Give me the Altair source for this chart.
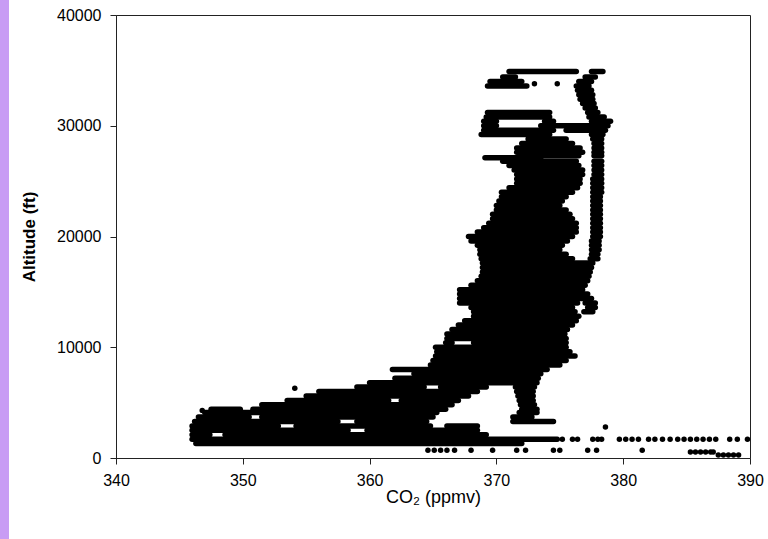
import altair as alt
import pandas as pd

# Horizontal flight-level streaks of dense samples: altitude (ft), CO2 start, CO2 end (ppmv)
streak_alt = [
    1300, 1700, 2100, 2100, 2500, 2500, 2900, 2900, 2900, 3300, 3300, 3300,
    3700, 3700, 3700, 4100, 4100, 4400, 4400, 4400, 4800, 4800, 5200, 5200, 5200,
    5600, 5600, 6000, 6000, 6400, 6400, 6400, 6800,
    7200, 7600, 8000,
    8400, 8800, 9200, 9600, 10000, 10400, 10400, 10800, 11200, 11600, 12000,
    12400, 12800, 13200, 13200, 13600, 13600, 14000, 14000, 14400, 14800,
    15200, 15600, 16000, 16400, 16800, 17200, 17600, 18000, 18000, 18400,
    18400, 18800, 18800, 19200, 19200, 19600, 19600, 20000, 20000, 20400,
    20400, 20800, 20800, 21200, 21200, 21600, 21600, 22000, 22000, 22400,
    22400, 22800, 22800, 23200, 23200, 23600, 23600, 24000, 24000, 24400,
    24400, 24800, 24800, 25200, 25200, 25600, 25600, 26000, 26000, 26400,
    26400, 26800, 26800, 27100, 27300, 27300, 27600, 27600, 28000, 28000,
    28400, 28400, 28800, 28800, 29200, 29200, 29600, 29600, 30000, 30000,
    30400, 30400, 30400, 30800, 30800, 31200, 31200, 31600, 32000, 32400,
    32800, 33200, 33600, 33600, 34000, 34000, 34400, 34400, 34900, 34900,
]
streak_lo = [
    346.3, 346.0, 346.0, 348.6, 346.0, 359.8, 346.0, 354.2, 366.1, 346.2, 359.0, 371.3,
    346.5, 351.5, 371.3, 347.0, 371.8, 347.5, 350.8, 372.0, 351.5, 371.9, 353.5, 362.5, 371.8,
    355.0, 371.7, 356.0, 371.6, 359.0, 365.6, 371.5, 360.0,
    362.0, 363.5, 361.8,
    364.8, 365.0, 365.2, 365.3, 365.2, 366.0, 368.2, 366.1, 366.1, 366.5, 367.0,
    367.5, 368.2, 368.2, 376.9, 368.0, 377.2, 367.1, 377.0, 367.1, 367.1,
    367.1, 368.0, 368.5, 368.8, 368.9, 368.9, 368.9, 368.8, 377.4, 368.7,
    377.5, 368.7, 377.5, 368.5, 377.5, 368.0, 377.5, 367.8, 377.6, 368.5,
    377.6, 369.0, 377.6, 369.4, 377.6, 369.7, 377.6, 369.7, 377.6, 370.0,
    377.6, 370.0, 377.6, 370.2, 377.6, 370.4, 377.6, 370.4, 377.6, 371.0,
    377.6, 371.6, 377.6, 371.6, 377.6, 371.6, 377.7, 371.4, 377.7, 371.0,
    377.7, 370.5, 377.7, 369.1, 373.0, 377.7, 371.6, 377.7, 371.6, 377.7,
    372.0, 377.7, 372.5, 377.6, 368.8, 377.5, 369.0, 375.5, 369.0, 373.5,
    369.0, 373.8, 377.5, 369.2, 377.3, 369.3, 377.2, 377.0, 376.8, 376.6,
    376.5, 376.4, 369.3, 376.3, 369.5, 376.5, 370.5, 377.0, 371.0, 377.5,
]
streak_hi = [
    372.0, 374.8, 347.4, 369.2, 358.3, 368.5, 352.8, 364.8, 368.5, 357.5, 364.5, 374.5,
    350.5, 365.0, 372.8, 365.3, 373.2, 349.8, 366.0, 373.2, 366.5, 373.0, 361.5, 367.0, 372.9,
    367.8, 372.9, 368.5, 372.9, 364.3, 369.2, 373.0, 373.2,
    373.3, 373.5, 374.0,
    375.0, 375.5, 376.2, 375.8, 375.5, 366.5, 375.5, 375.5, 375.4, 375.6, 376.0,
    376.3, 376.5, 376.2, 377.6, 376.0, 377.8, 376.4, 377.8, 377.5, 377.2,
    376.8, 377.0, 377.2, 377.3, 377.4, 377.5, 377.6, 376.0, 378.0, 375.5,
    378.0, 375.0, 378.1, 375.2, 378.1, 375.6, 378.1, 376.0, 378.2, 376.3,
    378.2, 376.3, 378.2, 376.3, 378.2, 376.0, 378.2, 375.8, 378.2, 375.5,
    378.2, 375.0, 378.2, 375.2, 378.2, 375.5, 378.2, 376.0, 378.3, 376.4,
    378.3, 376.6, 378.3, 376.6, 378.3, 376.8, 378.3, 376.8, 378.3, 376.5,
    378.3, 376.3, 378.3, 373.5, 376.5, 378.3, 376.8, 378.3, 376.6, 378.3,
    376.0, 378.3, 375.5, 378.3, 374.2, 378.4, 374.5, 378.6, 370.0, 378.8,
    370.0, 374.5, 379.0, 374.2, 378.5, 374.2, 378.0, 377.8, 377.7, 377.6,
    377.6, 377.5, 372.4, 377.3, 372.0, 377.5, 371.5, 377.8, 376.3, 378.4,
]

# Isolated samples: CO2 (ppmv), altitude (ft)
point_co2 = [
    354.1, 378.6, 346.8, 373.0, 374.8,
    364.6, 365.1, 365.6, 366.1, 366.7, 368.0, 369.7, 371.6, 372.3, 374.5, 375.0,
    377.2, 377.9, 381.5,
    385.3, 385.7, 386.1, 386.5, 386.9, 387.1,
    387.5, 387.9, 388.3, 388.7, 389.1,
    375.2, 376.0, 376.4, 377.6, 378.0, 378.3, 379.7, 380.2, 380.7, 381.2, 382.0,
    382.5, 383.1, 383.7, 384.3, 384.8, 385.3, 385.8, 386.3, 386.8, 387.3, 388.4,
    389.0, 389.8,
]
point_alt = [
    6300, 2800, 4300, 33800, 33800,
    700, 700, 700, 700, 700, 700, 700, 700, 700, 700, 700,
    700, 700, 700,
    540, 540, 540, 540, 540, 540,
    270, 270, 270, 270, 270,
    1700, 1700, 1700, 1700, 1700, 1700, 1700, 1700, 1700, 1700, 1700,
    1700, 1700, 1700, 1700, 1700, 1700, 1700, 1700, 1700, 1700, 1700,
    1700, 1700,
]

x_ticks = [340, 350, 360, 370, 380, 390]
y_ticks = [0, 10000, 20000, 30000, 40000]

streaks = pd.DataFrame({"alt": streak_alt, "lo": streak_lo, "hi": streak_hi})
points = pd.DataFrame({"co2": point_co2, "alt": point_alt})

FONT = "Liberation Sans"

x_scale = alt.Scale(domain=[340, 390], nice=False, zero=False)
y_scale = alt.Scale(domain=[0, 40000], nice=False)

x_axis = alt.Axis(values=x_ticks, title="CO₂ (ppmv)", grid=False, format="d",
                  labelFont=FONT, labelFontSize=16, labelColor="black",
                  labelFlush=False,
                  titleFont=FONT, titleFontSize=18, titleFontWeight="normal",
                  titleColor="black", tickSize=6, labelPadding=8,
                  titlePadding=0, domainColor="#222", tickColor="#222")
y_axis = alt.Axis(values=y_ticks, title="Altitude (ft)", grid=False, format="d",
                  labelFont=FONT, labelFontSize=16, labelColor="black",
                  labelFlush=False,
                  titleFont=FONT, titleFontSize=17, titleFontWeight="bold",
                  titleColor="black", tickSize=6, labelPadding=9,
                  titlePadding=18, domainColor="#222", tickColor="#222")

rules = alt.Chart(streaks).mark_rule(
    color="black", strokeWidth=5.5, strokeCap="round"
).encode(
    x=alt.X("lo:Q", scale=x_scale, axis=x_axis),
    x2="hi:Q",
    y=alt.Y("alt:Q", scale=y_scale, axis=y_axis),
)

dots = alt.Chart(points).mark_circle(size=30, color="black", opacity=1).encode(
    x=alt.X("co2:Q", scale=x_scale),
    y=alt.Y("alt:Q", scale=y_scale),
)

strip = alt.Chart(pd.DataFrame({"a": [0]})).mark_rect(color="#C89CF4").encode(
    x=alt.value(-116), x2=alt.value(-107), y=alt.value(-15), y2=alt.value(524)
)

chart = alt.layer(strip, rules, dots).properties(
    width=634, height=443,
    autosize=alt.AutoSizeParams(type="none"),
    padding={"left": 116, "top": 15, "right": 18, "bottom": 81},
    background="white",
).configure_view(stroke="#222", strokeWidth=1)

chart.save("out.html", embed_options={"renderer": "svg", "actions": False})
